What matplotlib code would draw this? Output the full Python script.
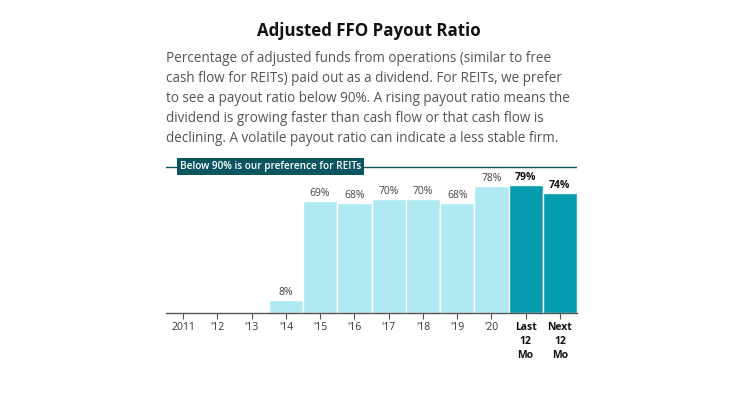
import matplotlib
matplotlib.use("Agg")
import matplotlib.pyplot as plt
import numpy as np

categories = ["2011", "'12", "'13", "'14", "'15", "'16", "'17", "'18", "'19", "'20", "Last\n12\nMo", "Next\n12\nMo"]
values = [None, None, None, 8, 69, 68, 70, 70, 68, 78, 79, 74]
highlight = [False]*10 + [True, True]
threshold = 90

W, H = 738, 394
fig = plt.figure(figsize=(W/100, H/100), dpi=100)
FONT = "Open Sans"

light = "#AFEAF2"
dark = "#069CB0"
line_col = "#0B5560"

px_per = 1.625
ax_left, ax_right, base_y = 166, 577, 313
ymax = 100
ax = fig.add_axes([ax_left/W, (H-base_y)/H, (ax_right-ax_left)/W, ymax*px_per/H])
x = np.arange(len(categories))
for i, v in enumerate(values):
    if v is None:
        continue
    c = dark if highlight[i] else light
    ax.bar(i, v, width=1.0, color=c, edgecolor="white", linewidth=1.0)
    ax.text(i, v + 1.2, f"{v}%", ha="center", va="bottom", fontsize=7.5,
            family=FONT, color="#111111" if highlight[i] else "#444444",
            fontweight="bold" if highlight[i] else "normal")

ax.set_xlim(-0.5, len(categories)-0.5)
ax.set_ylim(0, ymax)
ax.axhline(threshold, color=line_col, linewidth=1.0, xmin=0, xmax=1)
ax.text(-0.1, threshold, "Below 90% is our preference for REITs", ha="left", va="center",
        fontsize=7.2, family=FONT, color="white", fontweight="semibold",
        bbox=dict(boxstyle="square,pad=0.3", fc=line_col, ec="none"))

for s in ["top", "right", "left"]:
    ax.spines[s].set_visible(False)
ax.spines["bottom"].set_color("#555555")
ax.spines["bottom"].set_linewidth(1.0)
ax.set_yticks([])
ax.set_xticks(x)
ax.set_xticklabels(categories, fontsize=7.5, family=FONT, color="#333333", linespacing=1.4)
for i, lab in enumerate(ax.get_xticklabels()):
    if highlight[i]:
        lab.set_fontweight("bold")
        lab.set_color("#111111")
ax.tick_params(axis="x", length=4, width=0.8, color="#555555", pad=2.5)

fig.text(369/W, 1 - 31/H, "Adjusted FFO Payout Ratio", ha="center", va="center",
         fontsize=12.2, fontweight="bold", family=FONT, color="#111111")
sub = ("Percentage of adjusted funds from operations (similar to free\n"
       "cash flow for REITs) paid out as a dividend. For REITs, we prefer\n"
       "to see a payout ratio below 90%. A rising payout ratio means the\n"
       "dividend is growing faster than cash flow or that cash flow is\n"
       "declining. A volatile payout ratio can indicate a less stable firm.")
fig.text(166/W, 1 - 51/H, sub, ha="left", va="top", fontsize=9.75, family=FONT,
         color="#555555", linespacing=1.45)

fig.savefig("out.png", dpi=100)
